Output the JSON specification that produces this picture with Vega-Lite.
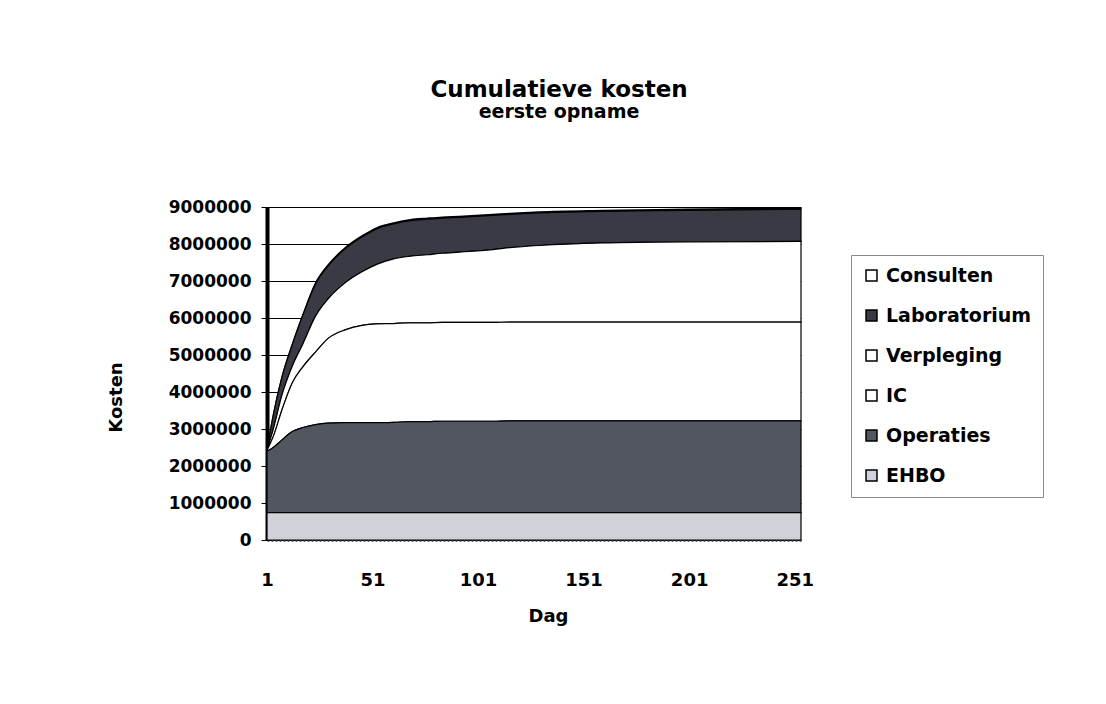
{
  "$schema": "https://vega.github.io/schema/vega-lite/v6.json",
  "width": 534,
  "height": 333,
  "autosize": {"type": "none"},
  "padding": {"left": 267, "top": 207, "right": 305, "bottom": 164},
  "background": "white",
  "title": {
    "text": "Cumulatieve kosten",
    "subtitle": "eerste opname",
    "anchor": "middle",
    "frame": "group",
    "dx": 25,
    "offset": 76,
    "font": "DejaVu Sans",
    "fontSize": 23,
    "fontWeight": "bold",
    "color": "black",
    "subtitleFont": "DejaVu Sans",
    "subtitleFontSize": 19,
    "subtitleFontWeight": "bold",
    "subtitleColor": "black",
    "subtitlePadding": 1
  },
  "data": {
    "values": [
      {"Dag": 1, "EHBO": 740000, "Operaties": 1660000, "IC": 20000, "Verpleging": 10000, "Laboratorium": 5000, "Consulten": 5000},
      {"Dag": 4, "EHBO": 740000, "Operaties": 1760000, "IC": 300000, "Verpleging": 200000, "Laboratorium": 380000, "Consulten": 10000},
      {"Dag": 8, "EHBO": 740000, "Operaties": 1960000, "IC": 800000, "Verpleging": 400000, "Laboratorium": 480000, "Consulten": 15000},
      {"Dag": 13, "EHBO": 740000, "Operaties": 2190000, "IC": 1320000, "Verpleging": 450000, "Laboratorium": 580000, "Consulten": 20000},
      {"Dag": 18, "EHBO": 740000, "Operaties": 2300000, "IC": 1640000, "Verpleging": 620000, "Laboratorium": 770000, "Consulten": 25000},
      {"Dag": 24, "EHBO": 740000, "Operaties": 2380000, "IC": 1960000, "Verpleging": 970000, "Laboratorium": 870000, "Consulten": 30000},
      {"Dag": 30, "EHBO": 740000, "Operaties": 2420000, "IC": 2290000, "Verpleging": 1070000, "Laboratorium": 890000, "Consulten": 30000},
      {"Dag": 38, "EHBO": 740000, "Operaties": 2430000, "IC": 2510000, "Verpleging": 1270000, "Laboratorium": 920000, "Consulten": 30000},
      {"Dag": 46, "EHBO": 740000, "Operaties": 2430000, "IC": 2630000, "Verpleging": 1450000, "Laboratorium": 940000, "Consulten": 30000},
      {"Dag": 53, "EHBO": 740000, "Operaties": 2430000, "IC": 2670000, "Verpleging": 1610000, "Laboratorium": 960000, "Consulten": 30000},
      {"Dag": 61, "EHBO": 740000, "Operaties": 2440000, "IC": 2670000, "Verpleging": 1750000, "Laboratorium": 940000, "Consulten": 30000},
      {"Dag": 69, "EHBO": 740000, "Operaties": 2460000, "IC": 2670000, "Verpleging": 1800000, "Laboratorium": 960000, "Consulten": 30000},
      {"Dag": 77, "EHBO": 740000, "Operaties": 2460000, "IC": 2670000, "Verpleging": 1840000, "Laboratorium": 960000, "Consulten": 30000},
      {"Dag": 84, "EHBO": 740000, "Operaties": 2470000, "IC": 2670000, "Verpleging": 1870000, "Laboratorium": 950000, "Consulten": 30000},
      {"Dag": 92, "EHBO": 740000, "Operaties": 2470000, "IC": 2670000, "Verpleging": 1900000, "Laboratorium": 940000, "Consulten": 30000},
      {"Dag": 108, "EHBO": 740000, "Operaties": 2470000, "IC": 2670000, "Verpleging": 1970000, "Laboratorium": 920000, "Consulten": 30000},
      {"Dag": 116, "EHBO": 740000, "Operaties": 2480000, "IC": 2670000, "Verpleging": 2010000, "Laboratorium": 900000, "Consulten": 30000},
      {"Dag": 130, "EHBO": 740000, "Operaties": 2480000, "IC": 2670000, "Verpleging": 2070000, "Laboratorium": 880000, "Consulten": 30000},
      {"Dag": 160, "EHBO": 740000, "Operaties": 2480000, "IC": 2670000, "Verpleging": 2140000, "Laboratorium": 850000, "Consulten": 30000},
      {"Dag": 200, "EHBO": 740000, "Operaties": 2480000, "IC": 2670000, "Verpleging": 2170000, "Laboratorium": 850000, "Consulten": 30000},
      {"Dag": 254, "EHBO": 740000, "Operaties": 2480000, "IC": 2670000, "Verpleging": 2180000, "Laboratorium": 870000, "Consulten": 30000}
    ]
  },
  "transform": [
    {"fold": ["Consulten", "Laboratorium", "Verpleging", "IC", "Operaties", "EHBO"], "as": ["post", "kosten"]},
    {"calculate": "indexof(['EHBO','Operaties','IC','Verpleging','Laboratorium','Consulten'], datum.post)", "as": "volgorde"}
  ],
  "mark": {"type": "area", "interpolate": "monotone", "stroke": "black", "strokeWidth": 1.2, "opacity": 1},
  "encoding": {
    "x": {
      "field": "Dag",
      "type": "quantitative",
      "scale": {"domain": [1, 254], "nice": false, "zero": false},
      "axis": {
        "values": [1, 51, 101, 151, 201, 251],
        "format": "d",
        "grid": false,
        "tickSize": 0,
        "labelPadding": 31,
        "labelFlush": false,
        "labelOverlap": false,
        "labelFont": "DejaVu Sans",
        "labelFontWeight": "bold",
        "labelFontSize": 18,
        "labelColor": "black",
        "domainColor": "#666666",
        "domainWidth": 3,
        "domainDash": [2, 2],
        "title": "Dag",
        "titleFont": "DejaVu Sans",
        "titleFontWeight": "bold",
        "titleFontSize": 18,
        "titleColor": "black",
        "titleX": 281,
        "titleAlign": "center",
        "titlePadding": 18
      }
    },
    "y": {
      "field": "kosten",
      "type": "quantitative",
      "stack": "zero",
      "scale": {"domain": [0, 9000000], "nice": false},
      "axis": {
        "values": [0, 1000000, 2000000, 3000000, 4000000, 5000000, 6000000, 7000000, 8000000, 9000000],
        "format": "d",
        "grid": true,
        "gridColor": "black",
        "gridWidth": 1,
        "gridOpacity": 1,
        "domainColor": "black",
        "domainWidth": 4,
        "tickColor": "black",
        "tickSize": 6,
        "tickWidth": 1,
        "labelPadding": 10,
        "labelOverlap": false,
        "labelFont": "DejaVu Sans",
        "labelFontWeight": "bold",
        "labelFontSize": 17,
        "labelColor": "black",
        "title": "Kosten",
        "titleFont": "DejaVu Sans",
        "titleFontWeight": "bold",
        "titleFontSize": 18,
        "titleColor": "black",
        "titleAngle": -90,
        "titleX": -151,
        "titleY": 190,
        "titleAlign": "center",
        "titleBaseline": "middle"
      }
    },
    "order": {"field": "volgorde", "type": "quantitative", "sort": "ascending"},
    "color": {
      "field": "post",
      "type": "nominal",
      "scale": {
        "domain": ["Consulten", "Laboratorium", "Verpleging", "IC", "Operaties", "EHBO"],
        "range": ["#ffffff", "#3a3a44", "#ffffff", "#ffffff", "#52575f", "#cfd3d9"]
      },
      "legend": {
        "orient": "none",
        "legendX": 584,
        "legendY": 48,
        "title": null,
        "symbolType": "square",
        "symbolSize": 120,
        "symbolStrokeColor": "black",
        "symbolStrokeWidth": 1.5,
        "symbolOpacity": 1,
        "labelFont": "DejaVu Sans",
        "labelFontWeight": "bold",
        "labelFontSize": 19,
        "labelColor": "black",
        "labelOffset": 5,
        "labelLimit": 300,
        "rowPadding": 20,
        "padding": 11,
        "strokeColor": "#888888",
        "fillColor": "white"
      }
    }
  },
  "config": {"view": {"stroke": null}}
}
